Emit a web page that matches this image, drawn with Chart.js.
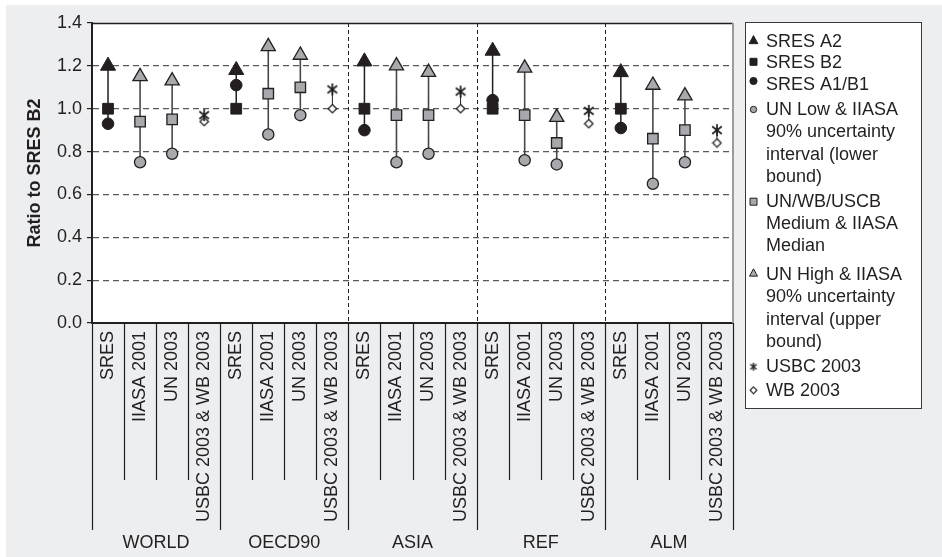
<!DOCTYPE html>
<html>
<head>
<meta charset="utf-8">
<script src="https://cdn.jsdelivr.net/npm/chart.js@4/dist/chart.umd.min.js"></script>
<style>
  html, body { margin: 0; padding: 0; background: #ffffff; }
  #wrap { position: relative; width: 942px; height: 557px; }
</style>
</head>
<body>
<div id="wrap"><canvas id="chart" width="942" height="557"></canvas></div>
<script>
// Regions and projection sources (one column per source inside each region)
const regions = ['WORLD', 'OECD90', 'ASIA', 'REF', 'ALM'];
const sources = ['SRES', 'IIASA 2001', 'UN 2003', 'USBC 2003 & WB 2003'];

// Ratio to SRES B2, one value per region
const sresA2     = [1.20, 1.18, 1.22, 1.27, 1.17];
const sresB2     = [1.00, 1.00, 1.00, 1.00, 1.00];
const sresA1B1   = [0.93, 1.11, 0.90, 1.04, 0.91];
const iiasaLow   = [0.75, 0.88, 0.75, 0.76, 0.65];
const iiasaMed   = [0.94, 1.07, 0.97, 0.97, 0.86];
const iiasaHigh  = [1.15, 1.29, 1.20, 1.19, 1.11];
const unLow      = [0.79, 0.97, 0.79, 0.74, 0.75];
const unMedium   = [0.95, 1.10, 0.97, 0.84, 0.90];
const unHigh     = [1.13, 1.25, 1.17, 0.96, 1.06];
const usbc2003   = [0.97, 1.09, 1.08, 0.99, 0.90];
const wb2003     = [0.94, 1.00, 1.00, 0.93, 0.84];

// Y axis ticks
const yTicks = [0, 0.2, 0.4, 0.6, 0.8, 1.0, 1.2, 1.4];

// Legend entries (wrapped lines)
const legendEntries = [
  { key: 'a2',   lines: ['SRES A2'] },
  { key: 'b2',   lines: ['SRES B2'] },
  { key: 'a1b1', lines: ['SRES A1/B1'] },
  { key: 'low',  lines: ['UN Low & IIASA', '90% uncertainty', 'interval (lower', 'bound)'] },
  { key: 'med',  lines: ['UN/WB/USCB', 'Medium & IIASA', 'Median'] },
  { key: 'high', lines: ['UN High & IIASA', '90% uncertainty', 'interval (upper', 'bound)'] },
  { key: 'usbc', lines: ['USBC 2003'] },
  { key: 'wb',   lines: ['WB 2003'] }
];

const INK = '#231f20';
const GREY = '#a7a9ac';
const FONT = '"Liberation Sans", Arial, Helvetica, sans-serif';

const columnLabels = [];
regions.forEach(() => sources.forEach(s => columnLabels.push(s)));
const colX = (r, s) => r * sources.length + s + 0.5;

function points(values, s) {
  return values.map((v, r) => ({ x: colX(r, s), y: v }));
}
function twoSources(a, b) {
  return points(a, 1).concat(points(b, 2));
}
function ranges(list) {
  const out = [];
  list.forEach(([x, lo, hi]) => {
    out.push({ x, y: lo }, { x, y: hi }, { x, y: null });
  });
  return out;
}

// Custom marker images
function makeAsterisk(size, lw) {
  const c = document.createElement('canvas');
  c.width = size; c.height = size;
  const g = c.getContext('2d');
  const m = size / 2, r = size / 2 - 1;
  g.strokeStyle = INK; g.lineWidth = lw; g.lineCap = 'butt';
  g.beginPath();
  g.moveTo(m, m - r); g.lineTo(m, m + r);
  const dx = r * 0.8, dy = r * 0.62;
  g.moveTo(m - dx, m - dy); g.lineTo(m + dx, m + dy);
  g.moveTo(m - dx, m + dy); g.lineTo(m + dx, m - dy);
  g.stroke();
  return c;
}
function makeDiamond(size, lw) {
  const c = document.createElement('canvas');
  c.width = size; c.height = size;
  const g = c.getContext('2d');
  const m = size / 2, r = size / 2 - lw;
  g.beginPath();
  g.moveTo(m, m - r); g.lineTo(m + r, m); g.lineTo(m, m + r); g.lineTo(m - r, m); g.closePath();
  g.fillStyle = '#ffffff'; g.fill();
  g.strokeStyle = INK; g.lineWidth = lw; g.stroke();
  return c;
}
const asteriskImg = makeAsterisk(14, 1.7);
const diamondImg = makeDiamond(11, 1.3);

const sresLinks = ranges(regions.map((_, r) => [colX(r, 0), Math.min(sresB2[r], sresA1B1[r]), sresA2[r]]));
const projLinks = ranges(regions.map((_, r) => [colX(r, 1), iiasaLow[r], iiasaHigh[r]])
  .concat(regions.map((_, r) => [colX(r, 2), unLow[r], unHigh[r]])));
const usbcLinks = ranges(regions.map((_, r) => [colX(r, 3), wb2003[r], usbc2003[r]]));

const datasets = [
  { label: 'SRES A2', data: points(sresA2, 0), pointStyle: 'triangle', pointRadius: 8.7,
    backgroundColor: INK, borderColor: INK, borderWidth: 1 },
  { label: 'SRES A1/B1', data: points(sresA1B1, 0), pointStyle: 'circle', pointRadius: 5.8,
    backgroundColor: INK, borderColor: INK, borderWidth: 1 },
  { label: 'SRES B2', data: points(sresB2, 0), pointStyle: 'rect', pointRadius: 7.6,
    backgroundColor: INK, borderColor: INK, borderWidth: 1 },
  { label: 'Low', data: twoSources(iiasaLow, unLow), pointStyle: 'circle', pointRadius: 5.6,
    backgroundColor: GREY, borderColor: INK, borderWidth: 1.3 },
  { label: 'Medium', data: twoSources(iiasaMed, unMedium), pointStyle: 'rect', pointRadius: 7.4,
    backgroundColor: GREY, borderColor: INK, borderWidth: 1.3 },
  { label: 'High', data: twoSources(iiasaHigh, unHigh), pointStyle: 'triangle', pointRadius: 8.2,
    backgroundColor: GREY, borderColor: INK, borderWidth: 1.3 },
  { label: 'USBC 2003', data: points(usbc2003, 3), pointStyle: asteriskImg, pointRadius: 6 },
  { label: 'WB 2003', data: points(wb2003, 3), pointStyle: diamondImg, pointRadius: 5 },
  { type: 'line', label: 'SRES range', data: sresLinks, borderColor: INK, borderWidth: 1.5,
    pointRadius: 0, spanGaps: false, order: 10 },
  { type: 'line', label: 'Projection range', data: projLinks, borderColor: '#4a4747', borderWidth: 1.6,
    pointRadius: 0, spanGaps: false, order: 10 },
  { type: 'line', label: 'USBC-WB range', data: usbcLinks, borderColor: INK, borderWidth: 1,
    pointRadius: 0, spanGaps: false, order: 10 }
];

function legendSymbol(ctx, key, x, y) {
  ctx.save();
  ctx.strokeStyle = INK;
  ctx.lineWidth = 1;
  const dark = ['a2', 'b2', 'a1b1'].includes(key);
  ctx.fillStyle = dark ? INK : GREY;
  ctx.beginPath();
  if (key === 'a2' || key === 'high') {
    const r = key === 'a2' ? 4.6 : 4.2;
    ctx.moveTo(x, y - r); ctx.lineTo(x + r * 0.95, y + r * 0.75); ctx.lineTo(x - r * 0.95, y + r * 0.75); ctx.closePath();
    ctx.fill(); ctx.stroke();
  } else if (key === 'b2' || key === 'med') {
    ctx.rect(x - 3.5, y - 3.5, 7, 7); ctx.fill(); ctx.stroke();
  } else if (key === 'a1b1' || key === 'low') {
    ctx.arc(x, y, key === 'a1b1' ? 3.6 : 3.2, 0, Math.PI * 2); ctx.fill(); ctx.stroke();
  } else if (key === 'usbc') {
    ctx.drawImage(makeAsterisk(10, 1.4), x - 5, y - 5);
  } else if (key === 'wb') {
    ctx.drawImage(makeDiamond(9, 1.1), x - 4.5, y - 4.5);
  }
  ctx.restore();
}

const decor = {
  id: 'decor',
  beforeDraw(chart) {
    const { ctx, width, height, chartArea: a } = chart;
    ctx.save();
    ctx.fillStyle = '#ffffff';
    ctx.fillRect(0, 0, width, height);
    ctx.fillStyle = '#eceef0';
    ctx.fillRect(6, 5, width - 6, height - 5);
    ctx.fillStyle = '#ffffff';
    ctx.fillRect(a.left, a.top, a.right - a.left, a.bottom - a.top);
    ctx.restore();
  },
  beforeDatasetsDraw(chart) {
    const { ctx, chartArea: a, scales: { x } } = chart;
    ctx.save();
    // region dividers
    ctx.strokeStyle = INK;
    ctx.lineWidth = 1;
    ctx.setLineDash([4, 3]);
    [2, 3, 4].forEach(r => {
      const px = Math.round(x.getPixelForValue(r * sources.length)) + 0.5;
      ctx.beginPath(); ctx.moveTo(px, a.top); ctx.lineTo(px, a.bottom); ctx.stroke();
    });
    ctx.setLineDash([]);
    // frame: top and right edges
    ctx.lineWidth = 1.3;
    ctx.beginPath(); ctx.moveTo(a.left, a.top + 0.5); ctx.lineTo(a.right, a.top + 0.5); ctx.stroke();
    ctx.strokeStyle = '#9b9b9b';
    ctx.lineWidth = 2;
    ctx.beginPath(); ctx.moveTo(a.right, a.top); ctx.lineTo(a.right, a.bottom); ctx.stroke();
    ctx.restore();
  },
  afterDraw(chart) {
    const { ctx, chartArea: a, scales: { x } } = chart;
    ctx.save();
    // column separators below the axis
    ctx.strokeStyle = INK;
    ctx.lineWidth = 1.2;
    for (let k = 0; k <= columnLabels.length; k++) {
      const px = Math.round(x.getPixelForValue(k)) + 0.5;
      const long = k % sources.length === 0;
      ctx.beginPath();
      ctx.moveTo(px, a.bottom);
      ctx.lineTo(px, long ? 530 : 480);
      ctx.stroke();
    }
    // region names
    ctx.fillStyle = INK;
    ctx.font = '18px ' + FONT;
    ctx.textAlign = 'center';
    ctx.textBaseline = 'middle';
    regions.forEach((name, r) => {
      ctx.fillText(name, x.getPixelForValue(r * sources.length + sources.length / 2), 543);
    });
    // legend box
    const bx = 745.5, by = 22.5, bw = 176, bh = 386;
    ctx.fillStyle = '#ffffff';
    ctx.fillRect(bx, by, bw, bh);
    ctx.strokeStyle = '#3a3838';
    ctx.lineWidth = 1;
    ctx.strokeRect(bx, by, bw, bh);
    const entryY = [41.7, 63.3, 85, 110, 201.7, 275, 366.7, 390.7];
    const symOffset = { a2: -1.5, b2: -1.5, a1b1: -4, low: -0.5, med: 0, high: -2, usbc: 0, wb: -0.5 };
    ctx.textAlign = 'left';
    ctx.font = '18px ' + FONT;
    legendEntries.forEach((e, i) => {
      const y0 = entryY[i];
      legendSymbol(ctx, e.key, 753.5, y0 + symOffset[e.key]);
      ctx.fillStyle = INK;
      e.lines.forEach((t, j) => ctx.fillText(t, 766, y0 + j * 22.3));
    });
    ctx.restore();
  }
};

new Chart(document.getElementById('chart'), {
  type: 'scatter',
  data: { datasets },
  options: {
    responsive: false,
    animation: false,
    devicePixelRatio: 1,
    layout: { padding: { top: 23, right: 209, bottom: 0, left: 0 } },
    plugins: { legend: { display: false }, tooltip: { enabled: false } },
    elements: { line: { tension: 0 } },
    scales: {
      x: {
        type: 'linear',
        min: 0,
        max: columnLabels.length,
        afterBuildTicks: s => { s.ticks = columnLabels.map((_, i) => ({ value: i + 0.5 })); },
        afterFit: s => { s.height = 234; },
        grid: { display: false, drawTicks: false },
        border: { display: true, color: INK, width: 2 },
        ticks: {
          autoSkip: false,
          minRotation: 90,
          maxRotation: 90,
          padding: 8,
          color: INK,
          font: { family: FONT, size: 18 },
          callback: (v, i) => columnLabels[i]
        }
      },
      y: {
        min: 0,
        max: 1.4,
        afterBuildTicks: s => { s.ticks = yTicks.map(v => ({ value: v })); },
        afterFit: s => { s.width = 92; },
        grid: {
          color: c => (c.tick && (c.tick.value === 0 || c.tick.value >= 1.39)) ? 'rgba(0,0,0,0)' : '#5a5858',
          lineWidth: 1.2,
          tickLength: 5,
          tickColor: INK,
          tickWidth: 1.2
        },
        border: { display: true, color: INK, width: 2, dash: [6, 4] },
        ticks: {
          padding: 5,
          color: INK,
          font: { family: FONT, size: 18 },
          callback: v => v.toFixed(1)
        },
        title: {
          display: true,
          text: 'Ratio to SRES B2',
          color: INK,
          font: { family: FONT, size: 18, weight: 'bold' },
          padding: { top: 24, bottom: 0 }
        }
      }
    }
  },
  plugins: [decor]
});
</script>
</body>
</html>
